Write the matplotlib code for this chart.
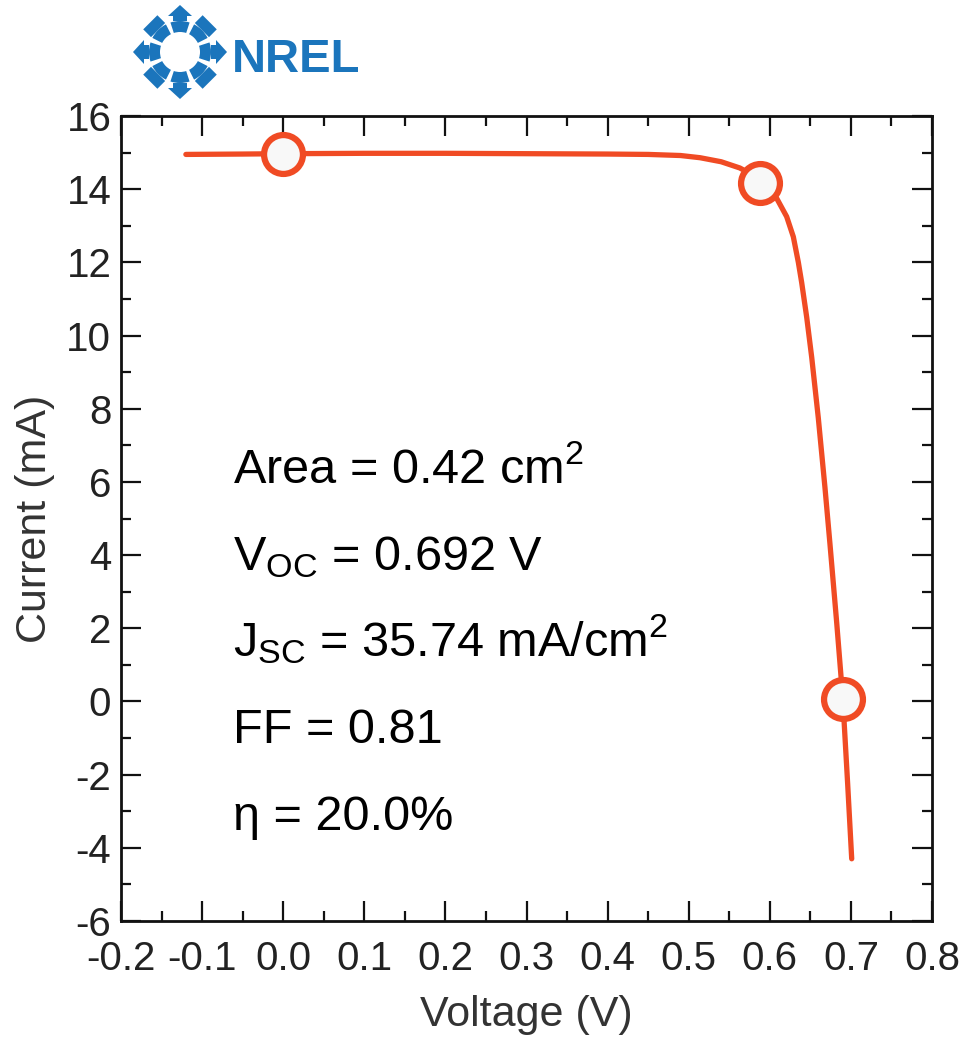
import numpy as np
import matplotlib.pyplot as plt
from matplotlib.patches import Wedge, Polygon
from matplotlib.ticker import MultipleLocator

plt.rcParams['font.family'] = ['Liberation Sans', 'DejaVu Sans']
plt.rcParams['mathtext.fontset'] = 'custom'
plt.rcParams['mathtext.rm'] = 'Liberation Sans'
plt.rcParams['mathtext.it'] = 'Liberation Sans'
plt.rcParams['axes.unicode_minus'] = False

# I-V curve of the cell
voltage = [-0.12, -0.05, 0.0, 0.1, 0.2, 0.3, 0.4, 0.45, 0.49, 0.514, 0.54,
           0.563, 0.578, 0.588, 0.598, 0.6085, 0.6208, 0.629, 0.6352,
           0.6393, 0.6455, 0.6517, 0.6598, 0.668, 0.6742, 0.6825, 0.690,
           0.696, 0.701]
current = [14.95, 14.96, 14.97, 14.98, 14.98, 14.97, 14.96, 14.95, 14.92,
           14.86, 14.75, 14.58, 14.40, 14.17, 13.99, 13.75, 13.25, 12.70,
           12.00, 11.45, 10.50, 9.40, 7.75, 5.85, 4.30, 2.15, 0.08,
           -2.25, -4.30]

# highlighted points: short circuit, max power, open circuit
mark_v = [0.0, 0.588, 0.690]
mark_i = [14.97, 14.17, 0.08]

stats = [r'Area = 0.42 cm$^{2}$',
         r'V$_{\mathrm{OC}}$ = 0.692 V',
         r'J$_{\mathrm{SC}}$ = 35.74 mA/cm$^{2}$',
         'FF = 0.81',
         'η = 20.0%']

red = '#F04B24'
blue = '#1B75BC'

fig = plt.figure(figsize=(9.71, 10.38), dpi=100)
ax = fig.add_axes([121 / 971, 1 - 921 / 1038, 811 / 971, 805 / 1038])

ax.plot(voltage, current, color=red, lw=3.8, solid_capstyle='round',
        solid_joinstyle='round', zorder=2)
ax.plot(mark_v, mark_i, 'o', ms=28, mfc='#F8F8F8', mec=red, mew=4.5, zorder=3)

ax.set_xlim(-0.2, 0.8)
ax.set_ylim(-6, 16)
ax.xaxis.set_minor_locator(MultipleLocator(0.05))
ax.yaxis.set_major_locator(MultipleLocator(2))
ax.yaxis.set_minor_locator(MultipleLocator(1))
xt = np.round(np.arange(-0.2, 0.81, 0.1), 1)
ax.set_xticks(xt)
ax.set_xticklabels([f'{v:.1f}' for v in xt])
ax.tick_params(which='both', direction='in', top=True, right=True,
               width=1.6, colors='#111111', labelcolor='#222222',
               labelsize=29)
ax.tick_params(which='major', length=14.5)
ax.tick_params(which='minor', length=7.5)
ax.tick_params(axis='x', which='major', pad=14)
ax.tick_params(axis='y', which='major', pad=7)
for s in ax.spines.values():
    s.set_linewidth(2)
    s.set_color('#111111')

ax.set_xlabel('Voltage (V)', fontsize=31, color='#333333', labelpad=12)
ax.set_ylabel('Current (mA)', fontsize=31, color='#333333', labelpad=8)

y0 = 5.97
for k, s in enumerate(stats):
    ax.text(-0.062, y0 - k * 2.37, s, fontsize=35, color='black',
            ha='left', va='baseline')

# NREL logo
lg = fig.add_axes([130 / 971, 1 - 105 / 1038, 110 / 971, 105 / 1038])
lg.set_xlim(0, 110)
lg.set_ylim(0, 105)
lg.set_aspect('equal')
lg.axis('off')
cx, cy = 50, 53
for a in range(8):
    lg.add_patch(Wedge((cx, cy), 31, a * 45 - 18, a * 45 + 18, width=11,
                       fc=blue, ec='none'))
for a in range(4):
    t = np.deg2rad(a * 90)
    d = np.array([np.cos(t), np.sin(t)])
    n = np.array([-d[1], d[0]])
    c = np.array([cx, cy])
    pts = [c + d * 31 + n * 7, c + d * 36 + n * 7, c + d * 36 + n * 12,
           c + d * 47, c + d * 36 - n * 12, c + d * 36 - n * 7,
           c + d * 31 - n * 7]
    lg.add_patch(Polygon(pts, closed=True, fc=blue, ec='none'))
for a in range(4):
    t = np.deg2rad(45 + a * 90)
    d = np.array([np.cos(t), np.sin(t)])
    n = np.array([-d[1], d[0]])
    c = np.array([cx, cy])
    pts = [c + d * 31 + n * 10, c + d * 42 + n * 10,
           c + d * 42 - n * 10, c + d * 31 - n * 10]
    lg.add_patch(Polygon(pts, closed=True, fc=blue, ec='none'))
fig.text(232 / 971, 1 - 72 / 1038, 'NREL', fontsize=34, fontweight='heavy',
         color=blue, ha='left', va='baseline')

fig.savefig('out.png', dpi=100)
